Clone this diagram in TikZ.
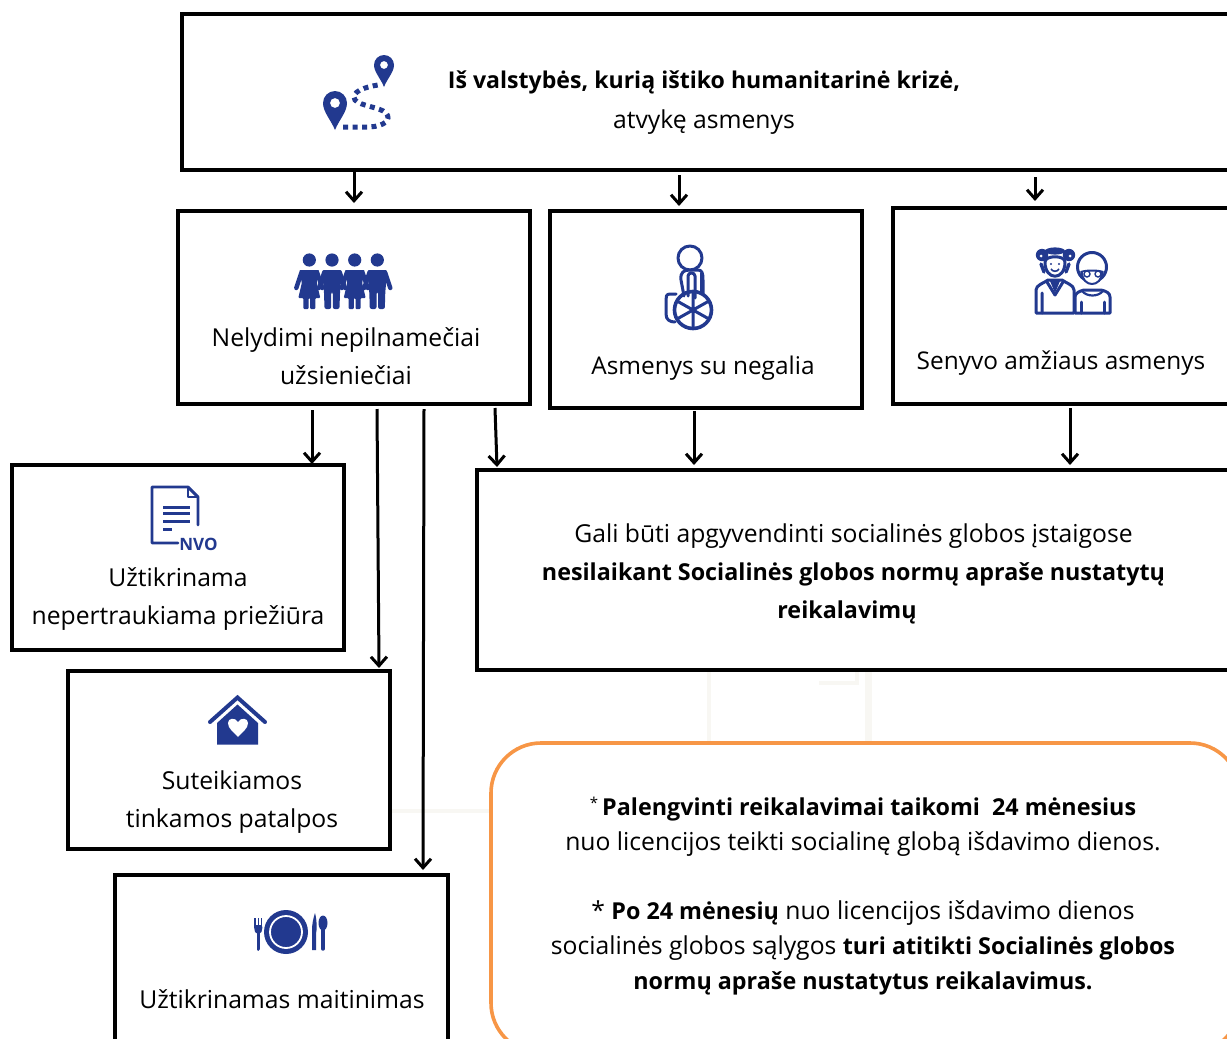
\documentclass[tikz,border=0pt]{standalone}
\usepackage{fontspec}
\setmainfont{Open Sans}
\usetikzlibrary{arrows.meta,calc}
\definecolor{iconblue}{HTML}{22398F}
\definecolor{boxorange}{HTML}{F79646}
\definecolor{faint}{HTML}{F8F7F3}
\newcommand{\boxat}[5]{\node[boxstyle,minimum width=#4-#2,minimum height=#5-#3] (#1) at ({(#2+#4)/2},{(#3+#5)/2}) {};}
\newcommand{\bt}[1]{{\fontsize{23.1}{38}\selectfont\bfseries #1}}
\newcommand{\btl}[1]{{\fontsize{23.3}{38}\selectfont\bfseries #1}}
\newcommand{\bts}[1]{{\fontsize{23.3}{35}\selectfont\bfseries #1}}
\tikzset{
  x=1pt,y=-1pt,
  boxstyle/.style={draw=black,line width=3.3pt,rectangle,inner sep=0pt,outer sep=0pt},
  txt/.style={font=\fontsize{24.7}{38}\selectfont,align=center,text=black,inner sep=0pt},
  txtn/.style={font=\fontsize{24.4}{38}\selectfont,align=center,text=black,inner sep=0pt},
  txts/.style={font=\fontsize{24.7}{35}\selectfont,align=center,text=black,inner sep=0pt},
  arr/.style={draw=black,line width=3pt,-{Straight Barb[length=9pt,width=16pt,line width=3pt]}},
  ico/.style={line width=3pt,draw=iconblue,line cap=round,line join=round},
  fl/.style={draw=faint,line width=4pt},
  boy/.pic={
    \fill[iconblue] (0,-13) circle (6.6);
    \fill[iconblue,rounded corners=2pt] (-10,-3) -- (10,-3) -- (8,19) -- (7.5,36) -- (0.8,36) -- (0.8,19) -- (-0.8,19) -- (-0.8,36) -- (-7.5,36) -- (-8,19) -- cycle;
    \draw[iconblue,line width=4.4pt,line cap=round] (-8,0) -- (-13,15) (8,0) -- (13,15);
  },
  girl/.pic={
    \fill[iconblue] (0,-13) circle (6.6);
    \fill[iconblue,rounded corners=1pt] (-10,-3) -- (10,-3) -- (7.5,10) -- (11,25) -- (6,25) -- (6,36) -- (0.8,36) -- (0.8,25) -- (-0.8,25) -- (-0.8,36) -- (-6,36) -- (-6,25) -- (-11,25) -- (-7.5,10) -- cycle;
    \draw[iconblue,line width=4.4pt,line cap=round] (-8,0) -- (-13,15) (8,0) -- (13,15);
  }
}
\begin{document}
\begin{tikzpicture}
\useasboundingbox (0,0) rectangle (1227,1039);
\clip (0,0) rectangle (1227,1039);
\fill[white] (0,0) rectangle (1227,1039);
% faint background traces
\draw[fl] (708.5,670) -- (708.5,743);
\draw[fl,line width=7pt] (868.5,670) -- (868.5,743);
\draw[fl] (819,683) -- (857,683) -- (857,671);
\draw[fl] (392,811) -- (490,811);

% boxes
\boxat{top}{182}{14}{1234}{170}
\boxat{nep}{178}{211}{530}{404}
\boxat{neg}{550}{211}{862}{408}
\boxat{sen}{893}{208}{1236}{404}
\boxat{gali}{477}{470}{1236}{670}
\boxat{uzt}{12}{465}{344}{650}
\boxat{sut}{68}{671}{390}{849}
\boxat{mai}{115}{875}{448}{1050}
\node[draw=boxorange,line width=3.6pt,rectangle,rounded corners=50pt,inner sep=0pt,minimum width=749,minimum height=310] (note) at (865.5,898) {};

% texts
\node[txt] (ttop) at (704,102.5) {\bt{Iš valstybės, kurią ištiko humanitarinė krizė,}\\[1.5pt]atvykę asmenys};
\node[txt] (tnep) at (346,356) {Nelydimi nepilnamečiai\\užsieniečiai};
\node[txtn] (tneg) at (703,368) {Asmenys su negalia};
\node[txtn] (tsen) at (1061,363) {Senyvo amžiaus asmenys};
\node[txt] (tgali) at (853.5,574) {Gali būti apgyvendinti socialinės globos įstaigose\\\btl{nesilaikant Socialinės globos normų apraše nustatytų}\\\btl{reikalavimų}\hspace*{13pt}};
\node[txt] (tuzt) at (178,599) {Užtikrinama\\nepertraukiama priežiūra};
\node[txt] (tsut) at (232,802.5) {Suteikiamos\\tinkamos patalpos};
\node[txt] (tmai) at (282,999) {Užtikrinamas maitinimas};
\node[txts] (tn1) at (863,827) {\raisebox{7pt}{\fontsize{15}{15}\selectfont *}\,\bts{Palengvinti reikalavimai taikomi \ 24 mėnesius}\\nuo licencijos teikti socialinę globą išdavimo dienos.};
\node[txts] (tn2) at (863,948) {* \bts{Po 24 mėnesių} nuo licencijos išdavimo dienos\\socialinės globos sąlygos \bts{turi atitikti Socialinės globos}\\\bts{normų apraše nustatytus reikalavimus.}};

% connectors
\draw[arr] ([xshift=172pt,yshift=-2pt]top.south west) -- ([xshift=176pt,yshift=8pt]nep.north west);
\draw[arr] ([xshift=497pt,yshift=-5pt]top.south west) -- ([xshift=129pt,yshift=5pt]neg.north west);
\draw[arr] ([xshift=853pt,yshift=-7pt]top.south west) -- ([xshift=142pt,yshift=7pt]sen.north west);
\draw[arr] ([xshift=134pt,yshift=-6pt]nep.south west) -- ([xshift=300pt,yshift=1pt]uzt.north west);
\draw[arr] ([xshift=199pt,yshift=-5pt]nep.south west) -- ([xshift=311pt,yshift=3pt]sut.north west);
\draw[arr] ([xshift=246pt,yshift=-5pt]nep.south west) -- ([xshift=308pt,yshift=5pt]mai.north west);
\draw[arr] ([xshift=317pt,yshift=-4pt]nep.south west) -- ([xshift=20pt,yshift=3pt]gali.north west);
\draw[arr] ([xshift=144pt,yshift=-3pt]neg.south west) -- ([xshift=217pt,yshift=5pt]gali.north west);
\draw[arr] ([xshift=177pt,yshift=-4pt]sen.south west) -- ([xshift=593pt,yshift=5pt]gali.north west);

% map icon
\fill[iconblue,even odd rule] (335,130) .. controls (331,120) and (323,112) .. (323,103) arc[start angle=180,end angle=360,radius=12] .. controls (347,112) and (339,120) .. (335,130) -- cycle (340,103) arc[start angle=0,end angle=360,radius=5] -- cycle;
\fill[iconblue,even odd rule] (384,87) .. controls (381,79) and (374,72) .. (374,65) arc[start angle=180,end angle=360,radius=10] .. controls (394,72) and (387,79) .. (384,87) -- cycle (388,65) arc[start angle=0,end angle=360,radius=4] -- cycle;
\draw[iconblue,line width=5pt,dash pattern=on 5pt off 4.5pt] (343,127) -- (370,127) .. controls (384,126) and (392,120) .. (386,113) .. controls (380,107) and (360,106) .. (355,100) .. controls (350,92) and (365,87) .. (378,85);

% children icon
\path (309.3,273) pic {girl} (332,273) pic {boy} (354.7,273) pic {girl} (377.3,273) pic {boy};

% wheelchair icon
\draw[ico] (690,258) circle (12);
\draw[ico] (684,296) -- (681,280) .. controls (680,272) and (684,270) .. (690,270) -- (698,270) .. controls (702,270) and (703,273) .. (703,280) -- (703,293);
\draw[ico] (688,296) -- (688,276) .. controls (688,272) and (695,272) .. (695,276) -- (695,298);
\draw[iconblue,line width=3pt] (701,273) -- (701,292);
\draw[ico,line width=3.6pt] (693,310) circle (18.5);
\draw[ico] (693,310) -- (693,292) (693,310) -- (677,301) (693,310) -- (709,301) (693,310) -- (677,319) (693,310) -- (709,319) (693,310) -- (693,328);
\draw[ico] (676,294) -- (670,294) .. controls (666,294) and (666,297) .. (666,300) -- (666,314) .. controls (666,320) and (670,322) .. (675,322);

% elderly icon: man
\draw[ico,fill=white] (1036,313) -- (1036,290) .. controls (1036,285) and (1044,283) .. (1048,280) -- (1062,280) .. controls (1066,283) and (1074,285) .. (1074,290) -- (1074,313) -- cycle;
\draw[ico] (1042,313) -- (1042,293) (1047,282) -- (1055,295) -- (1063,282);
\fill[iconblue] (1050,281) -- (1060,281) -- (1055,293) -- cycle;
\draw[ico,fill=white] (1045,262) .. controls (1045,281) and (1065,281) .. (1065,262) .. controls (1065,255) and (1045,255) .. (1045,262) -- cycle;
\draw[iconblue,line width=3.4pt,line cap=round] (1044,272) -- (1041,264) (1066,272) -- (1069,264);
\fill[iconblue] (1042,255) circle (6.2) (1069,255) circle (6.2) (1055,251) ellipse (10 and 3.6);
\fill[white] (1041,256) circle (1.5) (1070,256) circle (1.5);
\fill[iconblue] (1051,264) circle (1.1) (1059,264) circle (1.1);
\draw[iconblue,line width=1.6pt] (1051,269) .. controls (1053,272) and (1057,272) .. (1059,269);
% elderly icon: woman
\draw[ico,fill=white] (1075,313) -- (1075,297) .. controls (1075,293) and (1080,291) .. (1084,290) -- (1101,290) .. controls (1106,291) and (1110,293) .. (1110,297) -- (1110,313) -- cycle;
\draw[ico] (1081,313) -- (1081,302) (1104,313) -- (1104,302);
\draw[ico,fill=white] (1092,267) circle (14.5);
\draw[ico,line width=2pt] (1081,272) .. controls (1086,270) and (1098,270) .. (1103,272);
\draw[ico,line width=2pt,fill=white] (1082,272) .. controls (1082,288) and (1102,288) .. (1102,272);
\draw[iconblue,line width=1.4pt,fill=white] (1087,274) circle (3) (1098,274) circle (3);
\draw[iconblue,line width=2.2pt] (1082,291) .. controls (1087,297) and (1098,297) .. (1103,291);

% document icon
\draw[ico,line width=2.9pt] (178,543) -- (152,543) -- (152,487) -- (188,487) -- (198,497) -- (198,525);
\draw[ico,line width=2.4pt] (188,487) -- (188,497) -- (198,497);
\draw[iconblue,line width=3pt] (163,507) -- (190,507) (163,513.5) -- (190,513.5) (163,521) -- (190,521) (163,529) -- (172,529);
\node[text=iconblue,inner sep=0pt,font=\fontsize{17}{17}\selectfont\bfseries] (nvo) at (198.5,544.5) {NVO};

% house icon
\draw[iconblue,line width=4pt,line cap=round,line join=miter] (210,722) -- (237.5,697.5) -- (265,722);
\fill[iconblue] (217,744.5) -- (217,723) -- (237.5,704.5) -- (258,723) -- (258,744.5) -- cycle;
\fill[white] (238,737) .. controls (234,732) and (228,729) .. (228,723) .. controls (228,718) and (235,717) .. (238,722) .. controls (241,717) and (248,718) .. (248,723) .. controls (248,729) and (242,732) .. (238,737) -- cycle;

% plate icon
\fill[iconblue] (286,932) circle (22);
\draw[white,line width=1.8pt] (286,932) circle (16);
\draw[iconblue,line width=1.5pt] (255,918) -- (255,928) (258.3,918) -- (258.3,928) (261.5,918) -- (261.5,928);
\fill[iconblue,rounded corners=2pt] (254.2,925) -- (262.3,925) -- (262.3,930) -- (260.5,934) -- (256,934) -- (254.2,930) -- cycle;
\draw[iconblue,line width=3.6pt,line cap=round] (258.3,932) -- (258.3,949);
\fill[iconblue] (312,950) -- (312,930) .. controls (312,925) and (313,919) .. (315,913) .. controls (317,920) and (317,930) .. (316,934) -- (316,950) -- cycle;
\fill[iconblue] (323,923) ellipse (4.5 and 7.5);
\draw[iconblue,line width=3.4pt,line cap=round] (323,928) -- (323,949);
\end{tikzpicture}
\end{document}
